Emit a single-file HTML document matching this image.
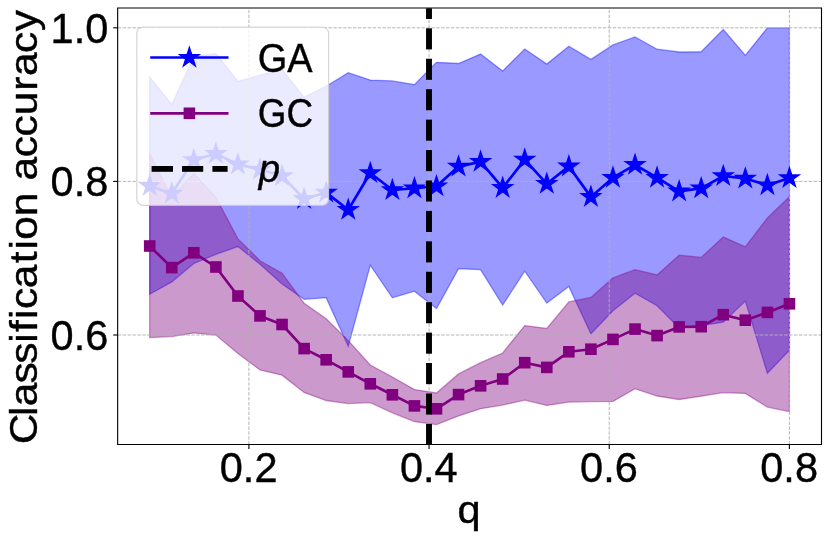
<!DOCTYPE html>
<html><head><meta charset="utf-8"><title>Classification accuracy vs q</title>
<style>html,body{margin:0;padding:0;background:#fff;}body{width:830px;height:539px;overflow:hidden;font-family:"Liberation Sans",sans-serif;}</style></head>
<body>
<svg width="830" height="539" viewBox="0 0 830 539" style="display:block;will-change:transform">
<rect x="0" y="0" width="830" height="539" fill="#ffffff"/>
<defs><clipPath id="ax"><rect x="117.8" y="8.2" width="704.0" height="436.3"/></clipPath></defs>
<g clip-path="url(#ax)">
<polygon points="149.70,77.20 171.76,104.30 193.82,56.80 215.88,53.50 237.94,81.40 260.00,75.20 282.06,69.50 304.12,97.30 326.18,86.30 348.24,72.70 370.30,80.10 392.36,80.90 414.42,84.60 436.48,62.30 458.54,63.50 480.60,54.10 502.66,71.10 524.73,49.00 546.79,64.10 568.85,46.30 590.91,59.40 612.97,44.90 635.03,37.00 657.09,49.20 679.15,52.00 701.21,51.80 723.27,29.50 745.33,55.30 767.39,27.90 789.45,27.90 789.45,350.30 767.39,373.30 745.33,301.10 723.27,322.20 701.21,325.50 679.15,328.00 657.09,305.80 635.03,293.30 612.97,310.70 590.91,333.80 568.85,286.50 546.79,303.10 524.73,271.10 502.66,305.10 480.60,269.70 458.54,268.70 436.48,308.60 414.42,291.20 392.36,297.80 370.30,265.20 348.24,346.30 326.18,297.70 304.12,299.30 282.06,284.00 260.00,264.20 237.94,246.60 215.88,254.30 193.82,263.50 171.76,281.90 149.70,294.20" fill="#0000ff" fill-opacity="0.4" stroke="#0000ff" stroke-opacity="0.4" stroke-width="1.3" stroke-linejoin="miter"/>
<polygon points="149.70,153.60 171.76,197.50 193.82,173.30 215.88,197.50 237.94,238.90 260.00,260.70 282.06,273.20 304.12,303.30 326.18,318.80 348.24,340.60 370.30,365.00 392.36,377.00 414.42,389.60 436.48,393.00 458.54,373.90 480.60,362.70 502.66,353.00 524.73,325.60 546.79,328.50 568.85,301.90 590.91,297.40 612.97,277.90 635.03,269.70 657.09,275.00 679.15,255.20 701.21,257.40 723.27,237.10 745.33,246.80 767.39,218.00 789.45,196.70 789.45,411.60 767.39,407.10 745.33,393.40 723.27,392.60 701.21,396.20 679.15,399.50 657.09,396.00 635.03,388.70 612.97,401.40 590.91,401.60 568.85,402.10 546.79,405.40 524.73,400.10 502.66,405.10 480.60,408.70 458.54,415.90 436.48,424.60 414.42,421.50 392.36,412.80 370.30,402.60 348.24,403.60 326.18,400.50 304.12,392.40 282.06,375.20 260.00,370.00 237.94,353.60 215.88,335.10 193.82,332.90 171.76,336.60 149.70,337.60" fill="#800080" fill-opacity="0.4" stroke="#800080" stroke-opacity="0.4" stroke-width="1.3" stroke-linejoin="miter"/>
<line x1="248.9" y1="444.5" x2="248.9" y2="8.2" stroke="#b0b0b0" stroke-width="0.95" stroke-dasharray="3.4 1.5"/>
<line x1="429.07" y1="444.5" x2="429.07" y2="8.2" stroke="#b0b0b0" stroke-width="0.95" stroke-dasharray="3.4 1.5"/>
<line x1="609.23" y1="444.5" x2="609.23" y2="8.2" stroke="#b0b0b0" stroke-width="0.95" stroke-dasharray="3.4 1.5"/>
<line x1="789.4" y1="444.5" x2="789.4" y2="8.2" stroke="#b0b0b0" stroke-width="0.95" stroke-dasharray="3.4 1.5"/>
<line x1="117.8" y1="27.8" x2="821.8" y2="27.8" stroke="#b0b0b0" stroke-width="0.95" stroke-dasharray="3.4 1.5"/>
<line x1="117.8" y1="181.4" x2="821.8" y2="181.4" stroke="#b0b0b0" stroke-width="0.95" stroke-dasharray="3.4 1.5"/>
<line x1="117.8" y1="335.0" x2="821.8" y2="335.0" stroke="#b0b0b0" stroke-width="0.95" stroke-dasharray="3.4 1.5"/>
<polyline points="149.70,185.90 171.76,193.60 193.82,160.00 215.88,153.80 237.94,164.40 260.00,169.60 282.06,176.10 304.12,198.90 326.18,192.60 348.24,209.80 370.30,173.00 392.36,190.00 414.42,188.30 436.48,186.30 458.54,166.60 480.60,161.70 502.66,187.90 524.73,159.60 546.79,183.80 568.85,166.40 590.91,196.90 612.97,177.70 635.03,164.80 657.09,177.70 679.15,191.40 701.21,188.30 723.27,176.00 745.33,178.50 767.39,185.20 789.45,178.10" fill="none" stroke="#0000ff" stroke-width="2.65" stroke-linejoin="round"/>
<polygon points="149.70,175.80 151.97,182.78 159.31,182.78 153.37,187.09 155.64,194.07 149.70,189.76 143.76,194.07 146.03,187.09 140.09,182.78 147.43,182.78" fill="#0000ff" stroke="#0000ff" stroke-width="1.39" stroke-linejoin="miter" stroke-miterlimit="10"/>
<polygon points="171.76,183.50 174.03,190.48 181.37,190.48 175.43,194.79 177.70,201.77 171.76,197.46 165.82,201.77 168.09,194.79 162.15,190.48 169.49,190.48" fill="#0000ff" stroke="#0000ff" stroke-width="1.39" stroke-linejoin="miter" stroke-miterlimit="10"/>
<polygon points="193.82,149.90 196.09,156.88 203.43,156.88 197.49,161.19 199.76,168.17 193.82,163.86 187.88,168.17 190.15,161.19 184.21,156.88 191.55,156.88" fill="#0000ff" stroke="#0000ff" stroke-width="1.39" stroke-linejoin="miter" stroke-miterlimit="10"/>
<polygon points="215.88,143.70 218.15,150.68 225.49,150.68 219.55,154.99 221.82,161.97 215.88,157.66 209.94,161.97 212.21,154.99 206.28,150.68 213.61,150.68" fill="#0000ff" stroke="#0000ff" stroke-width="1.39" stroke-linejoin="miter" stroke-miterlimit="10"/>
<polygon points="237.94,154.30 240.21,161.28 247.55,161.28 241.61,165.59 243.88,172.57 237.94,168.26 232.00,172.57 234.27,165.59 228.34,161.28 235.67,161.28" fill="#0000ff" stroke="#0000ff" stroke-width="1.39" stroke-linejoin="miter" stroke-miterlimit="10"/>
<polygon points="260.00,159.50 262.27,166.48 269.61,166.48 263.67,170.79 265.94,177.77 260.00,173.46 254.06,177.77 256.33,170.79 250.40,166.48 257.73,166.48" fill="#0000ff" stroke="#0000ff" stroke-width="1.39" stroke-linejoin="miter" stroke-miterlimit="10"/>
<polygon points="282.06,166.00 284.33,172.98 291.67,172.98 285.73,177.29 288.00,184.27 282.06,179.96 276.13,184.27 278.39,177.29 272.46,172.98 279.79,172.98" fill="#0000ff" stroke="#0000ff" stroke-width="1.39" stroke-linejoin="miter" stroke-miterlimit="10"/>
<polygon points="304.12,188.80 306.39,195.78 313.73,195.78 307.79,200.09 310.06,207.07 304.12,202.76 298.19,207.07 300.45,200.09 294.52,195.78 301.85,195.78" fill="#0000ff" stroke="#0000ff" stroke-width="1.39" stroke-linejoin="miter" stroke-miterlimit="10"/>
<polygon points="326.18,182.50 328.45,189.48 335.79,189.48 329.85,193.79 332.12,200.77 326.18,196.46 320.25,200.77 322.51,193.79 316.58,189.48 323.91,189.48" fill="#0000ff" stroke="#0000ff" stroke-width="1.39" stroke-linejoin="miter" stroke-miterlimit="10"/>
<polygon points="348.24,199.70 350.51,206.68 357.85,206.68 351.91,210.99 354.18,217.97 348.24,213.66 342.31,217.97 344.57,210.99 338.64,206.68 345.98,206.68" fill="#0000ff" stroke="#0000ff" stroke-width="1.39" stroke-linejoin="miter" stroke-miterlimit="10"/>
<polygon points="370.30,162.90 372.57,169.88 379.91,169.88 373.97,174.19 376.24,181.17 370.30,176.86 364.37,181.17 366.63,174.19 360.70,169.88 368.04,169.88" fill="#0000ff" stroke="#0000ff" stroke-width="1.39" stroke-linejoin="miter" stroke-miterlimit="10"/>
<polygon points="392.36,179.90 394.63,186.88 401.97,186.88 396.03,191.19 398.30,198.17 392.36,193.86 386.43,198.17 388.69,191.19 382.76,186.88 390.10,186.88" fill="#0000ff" stroke="#0000ff" stroke-width="1.39" stroke-linejoin="miter" stroke-miterlimit="10"/>
<polygon points="414.42,178.20 416.69,185.18 424.03,185.18 418.09,189.49 420.36,196.47 414.42,192.16 408.49,196.47 410.75,189.49 404.82,185.18 412.16,185.18" fill="#0000ff" stroke="#0000ff" stroke-width="1.39" stroke-linejoin="miter" stroke-miterlimit="10"/>
<polygon points="436.48,176.20 438.75,183.18 446.09,183.18 440.15,187.49 442.42,194.47 436.48,190.16 430.55,194.47 432.81,187.49 426.88,183.18 434.22,183.18" fill="#0000ff" stroke="#0000ff" stroke-width="1.39" stroke-linejoin="miter" stroke-miterlimit="10"/>
<polygon points="458.54,156.50 460.81,163.48 468.15,163.48 462.21,167.79 464.48,174.77 458.54,170.46 452.61,174.77 454.88,167.79 448.94,163.48 456.28,163.48" fill="#0000ff" stroke="#0000ff" stroke-width="1.39" stroke-linejoin="miter" stroke-miterlimit="10"/>
<polygon points="480.60,151.60 482.87,158.58 490.21,158.58 484.27,162.89 486.54,169.87 480.60,165.56 474.67,169.87 476.94,162.89 471.00,158.58 478.34,158.58" fill="#0000ff" stroke="#0000ff" stroke-width="1.39" stroke-linejoin="miter" stroke-miterlimit="10"/>
<polygon points="502.66,177.80 504.93,184.78 512.27,184.78 506.33,189.09 508.60,196.07 502.66,191.76 496.73,196.07 499.00,189.09 493.06,184.78 500.40,184.78" fill="#0000ff" stroke="#0000ff" stroke-width="1.39" stroke-linejoin="miter" stroke-miterlimit="10"/>
<polygon points="524.73,149.50 526.99,156.48 534.33,156.48 528.39,160.79 530.66,167.77 524.73,163.46 518.79,167.77 521.06,160.79 515.12,156.48 522.46,156.48" fill="#0000ff" stroke="#0000ff" stroke-width="1.39" stroke-linejoin="miter" stroke-miterlimit="10"/>
<polygon points="546.79,173.70 549.05,180.68 556.39,180.68 550.45,184.99 552.72,191.97 546.79,187.66 540.85,191.97 543.12,184.99 537.18,180.68 544.52,180.68" fill="#0000ff" stroke="#0000ff" stroke-width="1.39" stroke-linejoin="miter" stroke-miterlimit="10"/>
<polygon points="568.85,156.30 571.11,163.28 578.45,163.28 572.51,167.59 574.78,174.57 568.85,170.26 562.91,174.57 565.18,167.59 559.24,163.28 566.58,163.28" fill="#0000ff" stroke="#0000ff" stroke-width="1.39" stroke-linejoin="miter" stroke-miterlimit="10"/>
<polygon points="590.91,186.80 593.17,193.78 600.51,193.78 594.58,198.09 596.84,205.07 590.91,200.76 584.97,205.07 587.24,198.09 581.30,193.78 588.64,193.78" fill="#0000ff" stroke="#0000ff" stroke-width="1.39" stroke-linejoin="miter" stroke-miterlimit="10"/>
<polygon points="612.97,167.60 615.23,174.58 622.57,174.58 616.64,178.89 618.90,185.87 612.97,181.56 607.03,185.87 609.30,178.89 603.36,174.58 610.70,174.58" fill="#0000ff" stroke="#0000ff" stroke-width="1.39" stroke-linejoin="miter" stroke-miterlimit="10"/>
<polygon points="635.03,154.70 637.29,161.68 644.63,161.68 638.70,165.99 640.96,172.97 635.03,168.66 629.09,172.97 631.36,165.99 625.42,161.68 632.76,161.68" fill="#0000ff" stroke="#0000ff" stroke-width="1.39" stroke-linejoin="miter" stroke-miterlimit="10"/>
<polygon points="657.09,167.60 659.35,174.58 666.69,174.58 660.76,178.89 663.02,185.87 657.09,181.56 651.15,185.87 653.42,178.89 647.48,174.58 654.82,174.58" fill="#0000ff" stroke="#0000ff" stroke-width="1.39" stroke-linejoin="miter" stroke-miterlimit="10"/>
<polygon points="679.15,181.30 681.41,188.28 688.75,188.28 682.82,192.59 685.08,199.57 679.15,195.26 673.21,199.57 675.48,192.59 669.54,188.28 676.88,188.28" fill="#0000ff" stroke="#0000ff" stroke-width="1.39" stroke-linejoin="miter" stroke-miterlimit="10"/>
<polygon points="701.21,178.20 703.48,185.18 710.81,185.18 704.88,189.49 707.14,196.47 701.21,192.16 695.27,196.47 697.54,189.49 691.60,185.18 698.94,185.18" fill="#0000ff" stroke="#0000ff" stroke-width="1.39" stroke-linejoin="miter" stroke-miterlimit="10"/>
<polygon points="723.27,165.90 725.54,172.88 732.87,172.88 726.94,177.19 729.20,184.17 723.27,179.86 717.33,184.17 719.60,177.19 713.66,172.88 721.00,172.88" fill="#0000ff" stroke="#0000ff" stroke-width="1.39" stroke-linejoin="miter" stroke-miterlimit="10"/>
<polygon points="745.33,168.40 747.60,175.38 754.93,175.38 749.00,179.69 751.26,186.67 745.33,182.36 739.39,186.67 741.66,179.69 735.72,175.38 743.06,175.38" fill="#0000ff" stroke="#0000ff" stroke-width="1.39" stroke-linejoin="miter" stroke-miterlimit="10"/>
<polygon points="767.39,175.10 769.66,182.08 776.99,182.08 771.06,186.39 773.33,193.37 767.39,189.06 761.45,193.37 763.72,186.39 757.78,182.08 765.12,182.08" fill="#0000ff" stroke="#0000ff" stroke-width="1.39" stroke-linejoin="miter" stroke-miterlimit="10"/>
<polygon points="789.45,168.00 791.72,174.98 799.05,174.98 793.12,179.29 795.39,186.27 789.45,181.96 783.51,186.27 785.78,179.29 779.84,174.98 787.18,174.98" fill="#0000ff" stroke="#0000ff" stroke-width="1.39" stroke-linejoin="miter" stroke-miterlimit="10"/>
<polyline points="149.70,246.00 171.76,267.60 193.82,252.80 215.88,267.00 237.94,296.00 260.00,315.90 282.06,324.50 304.12,348.60 326.18,359.80 348.24,371.90 370.30,383.80 392.36,394.80 414.42,405.90 436.48,408.80 458.54,394.60 480.60,385.80 502.66,379.00 524.73,362.70 546.79,367.40 568.85,351.80 590.91,349.20 612.97,339.40 635.03,329.10 657.09,335.60 679.15,326.90 701.21,326.70 723.27,314.70 745.33,320.20 767.39,312.40 789.45,303.80" fill="none" stroke="#800080" stroke-width="2.65" stroke-linejoin="round"/>
<rect x="143.90" y="240.20" width="11.6" height="11.6" fill="#800080"/>
<rect x="165.96" y="261.80" width="11.6" height="11.6" fill="#800080"/>
<rect x="188.02" y="247.00" width="11.6" height="11.6" fill="#800080"/>
<rect x="210.08" y="261.20" width="11.6" height="11.6" fill="#800080"/>
<rect x="232.14" y="290.20" width="11.6" height="11.6" fill="#800080"/>
<rect x="254.20" y="310.10" width="11.6" height="11.6" fill="#800080"/>
<rect x="276.26" y="318.70" width="11.6" height="11.6" fill="#800080"/>
<rect x="298.32" y="342.80" width="11.6" height="11.6" fill="#800080"/>
<rect x="320.38" y="354.00" width="11.6" height="11.6" fill="#800080"/>
<rect x="342.44" y="366.10" width="11.6" height="11.6" fill="#800080"/>
<rect x="364.50" y="378.00" width="11.6" height="11.6" fill="#800080"/>
<rect x="386.56" y="389.00" width="11.6" height="11.6" fill="#800080"/>
<rect x="408.62" y="400.10" width="11.6" height="11.6" fill="#800080"/>
<rect x="430.68" y="403.00" width="11.6" height="11.6" fill="#800080"/>
<rect x="452.74" y="388.80" width="11.6" height="11.6" fill="#800080"/>
<rect x="474.80" y="380.00" width="11.6" height="11.6" fill="#800080"/>
<rect x="496.86" y="373.20" width="11.6" height="11.6" fill="#800080"/>
<rect x="518.93" y="356.90" width="11.6" height="11.6" fill="#800080"/>
<rect x="540.99" y="361.60" width="11.6" height="11.6" fill="#800080"/>
<rect x="563.05" y="346.00" width="11.6" height="11.6" fill="#800080"/>
<rect x="585.11" y="343.40" width="11.6" height="11.6" fill="#800080"/>
<rect x="607.17" y="333.60" width="11.6" height="11.6" fill="#800080"/>
<rect x="629.23" y="323.30" width="11.6" height="11.6" fill="#800080"/>
<rect x="651.29" y="329.80" width="11.6" height="11.6" fill="#800080"/>
<rect x="673.35" y="321.10" width="11.6" height="11.6" fill="#800080"/>
<rect x="695.41" y="320.90" width="11.6" height="11.6" fill="#800080"/>
<rect x="717.47" y="308.90" width="11.6" height="11.6" fill="#800080"/>
<rect x="739.53" y="314.40" width="11.6" height="11.6" fill="#800080"/>
<rect x="761.59" y="306.60" width="11.6" height="11.6" fill="#800080"/>
<rect x="783.65" y="298.00" width="11.6" height="11.6" fill="#800080"/>
<rect x="426.05" y="423.90" width="5.9" height="21.1" fill="#000"/>
<rect x="426.05" y="393.47" width="5.9" height="21.1" fill="#000"/>
<rect x="426.05" y="363.04" width="5.9" height="21.1" fill="#000"/>
<rect x="426.05" y="332.61" width="5.9" height="21.1" fill="#000"/>
<rect x="426.05" y="302.18" width="5.9" height="21.1" fill="#000"/>
<rect x="426.05" y="271.75" width="5.9" height="21.1" fill="#000"/>
<rect x="426.05" y="241.32" width="5.9" height="21.1" fill="#000"/>
<rect x="426.05" y="210.89" width="5.9" height="21.1" fill="#000"/>
<rect x="426.05" y="180.46" width="5.9" height="21.1" fill="#000"/>
<rect x="426.05" y="150.03" width="5.9" height="21.1" fill="#000"/>
<rect x="426.05" y="119.60" width="5.9" height="21.1" fill="#000"/>
<rect x="426.05" y="89.17" width="5.9" height="21.1" fill="#000"/>
<rect x="426.05" y="58.74" width="5.9" height="21.1" fill="#000"/>
<rect x="426.05" y="28.31" width="5.9" height="21.1" fill="#000"/>
<rect x="426.05" y="-2.12" width="5.9" height="21.1" fill="#000"/>
</g>
<path d="M117.65,7.45 V445.05 M821.5,7.45 V445.05 M117.10000000000001,8.0 H822.05 M117.10000000000001,444.5 H822.05" fill="none" stroke="#000" stroke-width="1.1"/>
<line x1="248.9" y1="444.5" x2="248.9" y2="449.1" stroke="#000" stroke-width="1.1"/>
<line x1="429.07" y1="444.5" x2="429.07" y2="449.1" stroke="#000" stroke-width="1.1"/>
<line x1="609.23" y1="444.5" x2="609.23" y2="449.1" stroke="#000" stroke-width="1.1"/>
<line x1="789.4" y1="444.5" x2="789.4" y2="449.1" stroke="#000" stroke-width="1.1"/>
<line x1="117.8" y1="27.8" x2="113.2" y2="27.8" stroke="#000" stroke-width="1.1"/>
<line x1="117.8" y1="181.4" x2="113.2" y2="181.4" stroke="#000" stroke-width="1.1"/>
<line x1="117.8" y1="335.0" x2="113.2" y2="335.0" stroke="#000" stroke-width="1.1"/>
<text transform="translate(50.60,42.60) scale(0.989,1)" font-family="Liberation Sans, sans-serif" font-size="42.0" fill="#000" stroke="#000" stroke-width="0.4">1.0</text>
<text transform="translate(50.60,196.20) scale(0.989,1)" font-family="Liberation Sans, sans-serif" font-size="42.0" fill="#000" stroke="#000" stroke-width="0.4">0.8</text>
<text transform="translate(50.60,349.80) scale(0.989,1)" font-family="Liberation Sans, sans-serif" font-size="42.0" fill="#000" stroke="#000" stroke-width="0.4">0.6</text>
<text transform="translate(219.75,481.70) scale(0.989,1)" font-family="Liberation Sans, sans-serif" font-size="42.0" fill="#000" stroke="#000" stroke-width="0.4">0.2</text>
<text transform="translate(399.92,481.70) scale(0.989,1)" font-family="Liberation Sans, sans-serif" font-size="42.0" fill="#000" stroke="#000" stroke-width="0.4">0.4</text>
<text transform="translate(580.08,481.70) scale(0.989,1)" font-family="Liberation Sans, sans-serif" font-size="42.0" fill="#000" stroke="#000" stroke-width="0.4">0.6</text>
<text transform="translate(760.25,481.70) scale(0.989,1)" font-family="Liberation Sans, sans-serif" font-size="42.0" fill="#000" stroke="#000" stroke-width="0.4">0.8</text>
<text transform="translate(457.50,522.60) scale(1.08,1)" font-family="Liberation Sans, sans-serif" font-size="38.4" fill="#000" stroke="#000" stroke-width="0.4">q</text>
<text transform="translate(36.90,442.90) rotate(-90) scale(1.074,1)" font-family="Liberation Sans, sans-serif" font-size="39.6" x="-1.2 25.12 34.21 55.31 73.68 93.27 103.27 115.48 124.57 143.95 167.18 180.09 189.16 211.12 233.41 244.31 265.92 285.31 305.06 327.90 341.54 363.15 383.27" fill="#000" stroke="#000" stroke-width="0.4">Classification accuracy</text>
<rect x="136.8" y="27.1" width="191.8" height="178.2" rx="6.2" ry="6.2" fill="#ffffff" fill-opacity="0.8" stroke="#cccccc" stroke-opacity="0.8" stroke-width="1.2"/>
<line x1="150.2" y1="57.5" x2="228.5" y2="57.5" stroke="#0000ff" stroke-width="2.65"/>
<polygon points="189.40,47.60 191.67,54.58 199.01,54.58 193.07,58.89 195.34,65.87 189.40,61.56 183.46,65.87 185.73,58.89 179.79,54.58 187.13,54.58" fill="#0000ff" stroke="#0000ff" stroke-width="1.39" stroke-linejoin="miter" stroke-miterlimit="10"/>
<line x1="150.2" y1="113.3" x2="228.5" y2="113.3" stroke="#800080" stroke-width="2.65"/>
<rect x="183.60" y="107.50" width="11.6" height="11.6" fill="#800080"/>
<rect x="151.6" y="166.00" width="21.40" height="5.8" fill="#000"/>
<rect x="182.0" y="166.00" width="21.20" height="5.8" fill="#000"/>
<rect x="212.4" y="166.00" width="15.20" height="5.8" fill="#000"/>
<text transform="translate(257.80,71.80) scale(0.921,1)" font-family="Liberation Sans, sans-serif" font-size="41.2" fill="#000" stroke="#000" stroke-width="0.4">GA</text>
<text transform="translate(257.85,127.30) scale(0.893,1)" font-family="Liberation Sans, sans-serif" font-size="41.2" fill="#000" stroke="#000" stroke-width="0.4">GC</text>
<text transform="translate(258.70,181.60) scale(0.986,1)" font-family="Liberation Sans, sans-serif" font-size="38.9" font-style="italic" fill="#000" stroke="#000" stroke-width="0.4">p</text>
</svg>
</body></html>
